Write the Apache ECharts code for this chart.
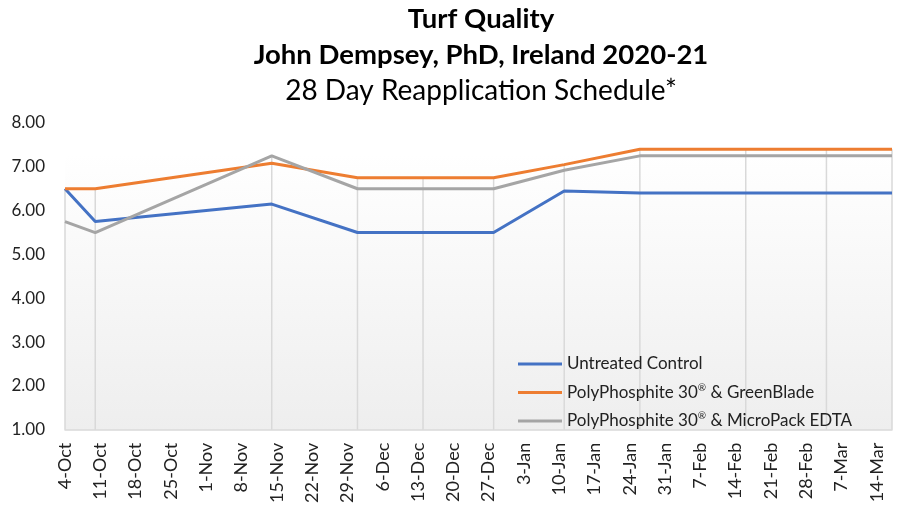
<!DOCTYPE html>
<html>
<head>
<meta charset="utf-8">
<script src="https://cdn.jsdelivr.net/npm/echarts@6/dist/echarts.min.js"></script>
<style>
html,body{margin:0;padding:0;background:#fff;}
#chart{width:902px;height:506px;}
</style>
</head>
<body>
<div id="chart"></div>
<script>
// ---- data ----
const titleLines = ['Turf Quality', 'John Dempsey, PhD, Ireland 2020-21', '28 Day Reapplication Schedule*'];
const tickLabels = ['4-Oct','11-Oct','18-Oct','25-Oct','1-Nov','8-Nov','15-Nov','22-Nov','29-Nov','6-Dec','13-Dec','20-Dec','27-Dec','3-Jan','10-Jan','17-Jan','24-Jan','31-Jan','7-Feb','14-Feb','21-Feb','28-Feb','7-Mar','14-Mar'];
const axisStartDate = '2020-10-04';
const axisEndDate = '2021-03-17';
const sampleDates = ['2020-10-04','2020-10-10','2020-11-14','2020-12-01','2020-12-14','2020-12-28','2021-01-11','2021-01-26','2021-02-16','2021-03-04','2021-03-17'];
const seriesNames = ['Untreated Control', 'PolyPhosphite 30® & GreenBlade', 'PolyPhosphite 30® & MicroPack EDTA'];
const untreated   = [6.50, 5.75, 6.15, 5.50, 5.50, 5.50, 6.45, 6.40, 6.40, 6.40, 6.40];
const greenBlade  = [6.50, 6.50, 7.08, 6.75, 6.75, 6.75, 7.05, 7.40, 7.40, 7.40, 7.40];
const microPack   = [5.75, 5.50, 7.25, 6.50, 6.50, 6.50, 6.92, 7.25, 7.25, 7.25, 7.25];
const yTicks = [1, 2, 3, 4, 5, 6, 7, 8];

// ---- helpers ----
function dayOffset(s) {
  const p = s.split('-').map(Number);
  const b = axisStartDate.split('-').map(Number);
  return Math.round((Date.UTC(p[0], p[1]-1, p[2]) - Date.UTC(b[0], b[1]-1, b[2])) / 86400000);
}
const xs = sampleDates.map(dayOffset);
const allSeries = [untreated, greenBlade, microPack];
const colors = ['#4472C4', '#ED7D31', '#A5A5A5'];
const dropData = xs.map((x, i) => [x, Math.max(untreated[i], greenBlade[i], microPack[i])]);

const FONT = 'Lato, "Open Sans", sans-serif';
const chart = echarts.init(document.getElementById('chart'), null, {renderer: 'canvas'});

const lineSeries = allSeries.map((vals, k) => ({
  name: seriesNames[k],
  type: 'line',
  data: xs.map((x, i) => [x, vals[i]]),
  showSymbol: false,
  symbol: 'none',
  lineStyle: {color: colors[k], width: 3},
  itemStyle: {color: colors[k]},
  z: 3 + k,
  animation: false
}));

chart.setOption({
  animation: false,
  textStyle: {fontFamily: FONT},
  graphic: titleLines.map((t, i) => ({
    type: 'text',
    x: 481,
    y: [19, 55, 91][i],
    style: {
      text: t,
      textAlign: 'center',
      textVerticalAlign: 'middle',
      fill: '#000',
      font: (i < 2 ? 'bold 27.5px ' : '28px ') + FONT
    }
  })),
  grid: {
    left: 65, right: 10, top: 123, bottom: 75,
    show: true, borderWidth: 0,
    backgroundColor: new echarts.graphic.LinearGradient(0, 0, 0, 1, [
      {offset: 0, color: '#ffffff'},
      {offset: 0.1, color: '#ffffff'},
      {offset: 1, color: '#eeeeee'}
    ])
  },
  legend: {
    data: seriesNames,
    orient: 'vertical',
    left: 518, top: 354,
    padding: 0,
    itemWidth: 44, itemHeight: 3,
    icon: 'rect',
    itemGap: 8.5,
    textStyle: {
      fontFamily: FONT, fontSize: 17, color: '#222', lineHeight: 20,
      rich: {r: {fontSize: 10, verticalAlign: 'top', lineHeight: 20, color: '#222', fontFamily: FONT}}
    },
    formatter: n => n.replace('®', '{r|®}')
  },
  xAxis: {
    type: 'value',
    min: 0,
    max: dayOffset(axisEndDate),
    interval: 7,
    axisLine: {show: true, lineStyle: {color: '#d9d9d9', width: 1.5}},
    axisTick: {show: false},
    splitLine: {show: false},
    axisLabel: {
      rotate: 90, margin: 13, fontSize: 18, color: '#222', fontFamily: FONT,
      showMaxLabel: true,
      formatter: v => (v % 7 === 0 && tickLabels[v / 7] !== undefined) ? tickLabels[v / 7] : ''
    }
  },
  yAxis: {
    type: 'value',
    min: yTicks[0], max: yTicks[yTicks.length - 1], interval: 1,
    axisLine: {show: false},
    axisTick: {show: false},
    splitLine: {show: false},
    axisLabel: {fontSize: 17, color: '#222', margin: 20, fontFamily: FONT, formatter: v => v.toFixed(2)}
  },
  series: [{
    type: 'custom',
    name: 'drop',
    z: 1,
    silent: true,
    data: dropData,
    renderItem: (params, api) => {
      const top = api.coord([api.value(0), api.value(1)]);
      const bot = api.coord([api.value(0), yTicks[0]]);
      return {type: 'line', shape: {x1: top[0], y1: top[1], x2: bot[0], y2: bot[1]},
              style: {stroke: '#d9d9d9', lineWidth: 1.5}};
    }
  }].concat(lineSeries)
});
</script>
</body>
</html>
